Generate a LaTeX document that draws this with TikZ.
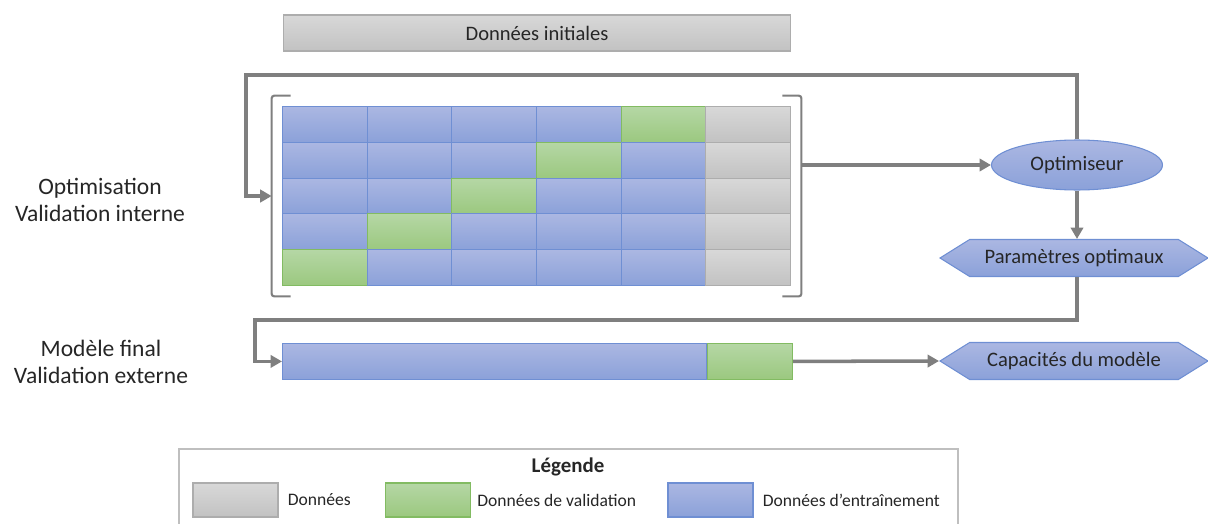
\documentclass[tikz,border=0pt]{standalone}
\usepackage{fontspec}
\setmainfont{Carlito}
\usepackage{xcolor}
\usepackage{tikz}
\usetikzlibrary{positioning, arrows.meta, shapes.geometric, shapes.symbols, calc, fit}

\definecolor{trainTop}{HTML}{ABB7E2}
\definecolor{trainBot}{HTML}{8BA1D9}
\definecolor{trainEdge}{HTML}{6F8FD3}
\definecolor{validTop}{HTML}{B5D7A5}
\definecolor{validBot}{HTML}{9BC87F}
\definecolor{validEdge}{HTML}{82BB62}
\definecolor{dataTop}{HTML}{D8D8D8}
\definecolor{dataBot}{HTML}{C2C2C2}
\definecolor{dataEdge}{HTML}{ADADAD}
\definecolor{lineGray}{HTML}{7F7F7F}
\definecolor{frameGray}{HTML}{BFBFBF}
\definecolor{textDark}{HTML}{262626}

\begin{document}
\begin{tikzpicture}[x=0.02cm, y=-0.02cm, text=textDark, font=\fontsize{11.7}{14}\selectfont]
        \tikzstyle{train} = [draw=trainEdge, line width=0.6pt, top color=trainTop, bottom color=trainBot]
        \tikzstyle{valid} = [draw=validEdge, line width=0.6pt, top color=validTop, bottom color=validBot]
        \tikzstyle{donnee} = [draw=dataEdge, line width=0.6pt, top color=dataTop, bottom color=dataBot]
        \tikzstyle{cell} = [rectangle, anchor=north west, inner sep=0pt, minimum width=1.693cm, minimum height=0.716cm]
        \tikzstyle{swatch} = [rectangle, inner sep=0pt, minimum width=1.7cm, minimum height=0.68cm]
        \tikzstyle{hexa} = [signal, signal to=west and east, signal pointer angle=64, train, inner sep=0pt, minimum width=5.36cm, minimum height=0.74cm]
        \tikzstyle{arrow} = [draw=lineGray, line width=2pt, -{Triangle[length=6.5pt, width=7pt]}]
        \tikzstyle{bracket} = [draw=lineGray, line width=1.2pt, rounded corners=1.5pt]
        \tikzstyle{label} = [align=center, font=\fontsize{13.4}{15.3}\selectfont]
        \tikzstyle{legtext} = [inner sep=0pt, anchor=west, font=\fontsize{10}{12}\selectfont]

        \useasboundingbox (0,0) rectangle (1208,524);

        \node [donnee, minimum width=10.16cm, minimum height=0.72cm] (init) at (537,33) {Données initiales};

        % grille de validation interne
        \foreach \r in {1,...,5}{
            \foreach \c in {1,...,6}{
                \ifnum\c=6 \def\cellstyle{donnee}\else
                    \ifnum\numexpr\c+\r\relax=6 \def\cellstyle{valid}\else\def\cellstyle{train}\fi
                \fi
                \node [\cellstyle, cell] (c-\r-\c) at ({282+84.67*(\c-1)}, {106+35.8*(\r-1)}) {};
            }
        }
        \node [fit=(c-1-1)(c-5-6), inner xsep=0.2cm, inner ysep=0.2cm] (grid) {};
        \draw [bracket] ($(grid.north west)+(19,0)$) -- (grid.north west) -- (grid.south west) -- ++(19,0);
        \draw [bracket] ($(grid.north east)+(-19,0)$) -- (grid.north east) -- (grid.south east) -- ++(-19,0);

        \node [ellipse, train, inner sep=0pt, minimum width=3.42cm, minimum height=1cm] (opt) at (1077,165) {Optimiseur};
        \node [hexa] (param) at (1074,258) {Paramètres optimaux};

        % modele final
        \node [train, cell, minimum width=8.48cm] (barT) at (282,343) {};
        \node [valid, cell, minimum width=1.7cm] (barV) at (barT.north east) {};
        \node [hexa] (cap) at (1074,361) {Capacités du modèle};

        \node [label] (optLbl) at (100,200) {Optimisation\\Validation interne};
        \node [label] (finLbl) at (101,362) {Modèle final\\Validation externe};

        \coordinate (loopA) at (246,75);
        \coordinate (loopB) at (255,320);

        \draw [arrow] (opt.north) |- (loopA) |- (grid.west);
        \draw [arrow] (grid.east |- opt.west) -- (opt.west);
        \draw [arrow] (opt.south) -- (opt.south |- param.north);
        \draw [arrow] (opt.south |- param.south) |- (loopB) |- (barT.west);
        \draw [arrow] (barV.east) -- (cap.west);

        % legende
        \draw [frameGray, line width=0.8pt] (179,524) |- (958,449) -- (958,524);
        \node [font=\bfseries\fontsize{11.9}{14}\selectfont] (legTitle) at (568,467) {Légende};
        \node [donnee, swatch] (sw1) at (235.5,500) {};
        \node [legtext, right=0.18cm of sw1] (lg1) {Données};
        \node [valid, swatch] (sw2) at (428,500) {};
        \node [legtext, right=0.12cm of sw2] (lg2) {Données de validation};
        \node [train, swatch] (sw3) at (710.5,500) {};
        \node [legtext, right=0.18cm of sw3] (lg3) {Données d’entraînement};
\end{tikzpicture}
\end{document}
